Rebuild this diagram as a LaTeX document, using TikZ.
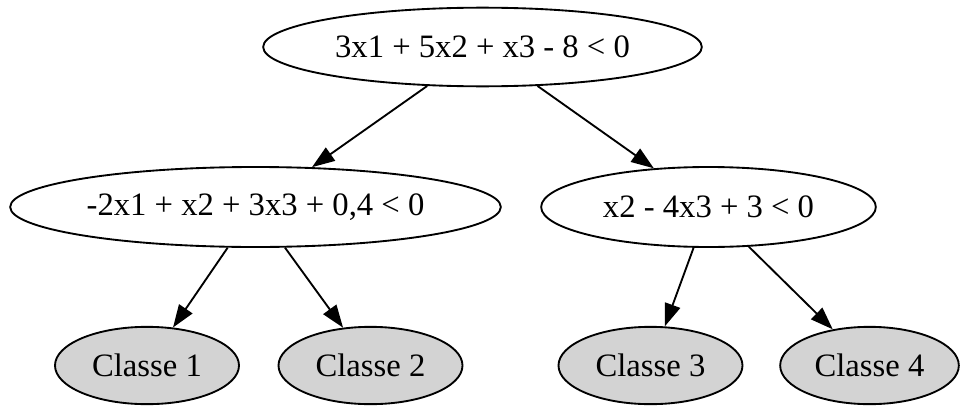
\documentclass[tikz,border=0pt]{standalone}
\usepackage{fontspec}
\setmainfont{Liberation Serif}
\usetikzlibrary{shapes.geometric,arrows.meta}
\definecolor{nodegray}{HTML}{D3D3D3}
\begin{document}
\begin{tikzpicture}[x=0.75pt,y=-0.75pt,
  base/.style={ellipse,draw=black,line width=1.4pt,inner sep=0pt,font=\fontsize{24.5pt}{28pt}\selectfont},
  cond/.style={base,fill=white},
  leaf/.style={base,fill=nodegray,minimum width=138pt,minimum height=58pt},
  arr/.style={line width=1.4pt,-{Triangle[length=17pt,width=12pt]}}]
\useasboundingbox (0,0) rectangle (960,407);
\node[cond,minimum width=329pt,minimum height=59pt] (root) at (482.5,47) {3x1 + 5x2 + x3 - 8 < 0};
\node[cond,minimum width=368pt,minimum height=60pt] (left) at (255.5,207) {-2x1 + x2 + 3x3 + 0,4 < 0};
\node[cond,minimum width=251pt,minimum height=60pt] (right) at (708.5,207) {x2 - 4x3 + 3 < 0};
\node[leaf] (c1) at (147,365.5) {Classe 1};
\node[leaf] (c2) at (370.5,365.5) {Classe 2};
\node[leaf] (c3) at (650.5,365.5) {Classe 3};
\node[leaf,minimum width=134pt] (c4) at (869.5,365.5) {Classe 4};
\draw[arr] (root) -- (left);
\draw[arr] (root) -- (right);
\draw[arr] (left) -- (c1);
\draw[arr] (left) -- (c2);
\draw[arr] (right) -- (c3);
\draw[arr] (right) -- (c4);
\end{tikzpicture}
\end{document}
